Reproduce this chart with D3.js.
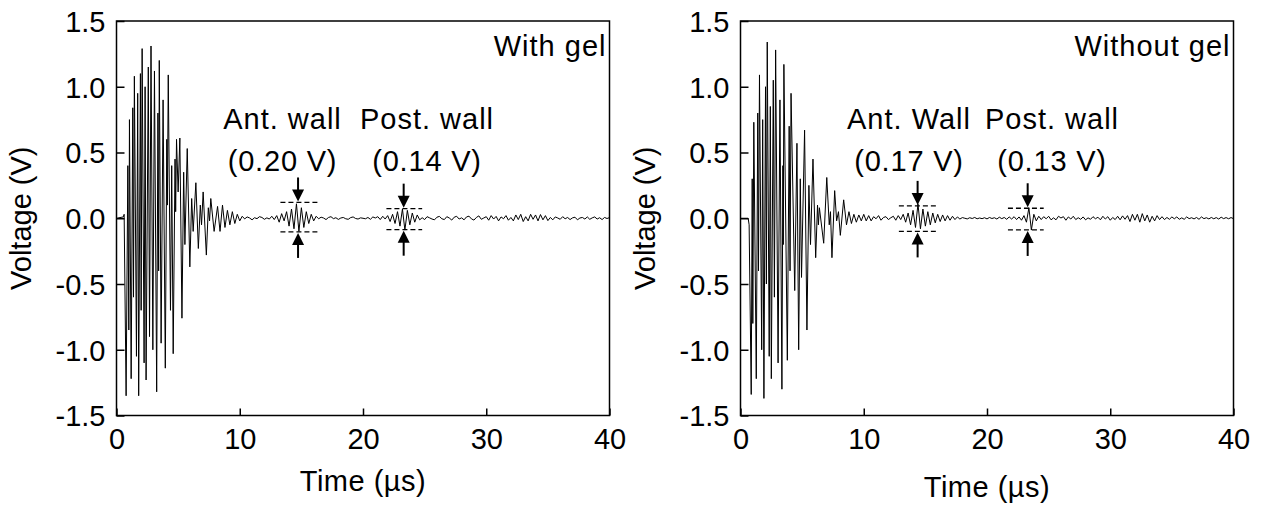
<!DOCTYPE html>
<html>
<head>
<meta charset="utf-8">
<script src="https://cdn.jsdelivr.net/npm/d3@7"></script>
<style>
  body { margin: 0; background: #fff; }
  text { font-family: "Liberation Sans", Arial, Helvetica, sans-serif; fill: #000; }
</style>
</head>
<body>
<svg id="chart" width="1262" height="505"></svg>
<script>
// ---- data ----
var xTicks = [0, 10, 20, 30, 40];
var yTicks = [-1.5, -1.0, -0.5, 0.0, 0.5, 1.0, 1.5];

// main burst, extrema (time in us, voltage in V)
var gelBurstT = [0, 0.55, 0.62, 0.78, 0.92, 1.00, 1.05, 1.19, 1.32, 1.38, 1.45, 1.62, 1.72, 1.80, 1.94, 2.00, 2.08, 2.24, 2.32, 2.40, 2.58, 2.68, 2.80, 2.95, 3.08, 3.26, 3.36, 3.42, 3.47, 3.62, 3.78, 3.96, 4.08, 4.13, 4.20, 4.38, 4.48, 4.60, 4.75, 4.80, 4.87, 5.00, 5.14, 5.31, 5.45, 5.55, 5.74, 5.95, 6.10, 6.22, 6.44, 6.64, 6.80, 6.90, 7.03, 7.29, 7.45, 7.55, 7.65, 7.92];
var gelBurstV = [0, 0.01, 0.03, -1.35, 0.40, -0.85, 0.75, -1.22, 0.84, -0.60, 1.08, -1.05, 0.95, -1.35, 1.10, -0.70, 1.29, -1.10, 1.00, -1.23, 1.15, -0.90, 1.31, -1.00, 1.12, -1.32, 0.80, -0.40, 1.20, -0.95, 0.90, -1.14, 0.60, 0.10, 1.09, -0.70, 0.40, -1.03, 0.45, 0.05, 0.60, 0.20, 0.61, -0.76, 0.35, -0.20, 0.53, -0.37, 0.15, -0.10, 0.27, -0.23, 0.10, -0.05, 0.20, -0.28, 0.08, -0.02, 0.15, -0.10];
// after the burst: one value every 0.2 us from 8.2 us
var gelTailStart = 8.2;
var gelTail = [
  0.09, -0.10, 0.10, -0.07, 0.06, -0.05, 0.05, -0.04, 0.03, -0.02,
  0.015, -0.005, 0.01, 0.002, -0.012, 0.004, -0.003, 0.012, 0.006, -0.008,
  0.003, -0.006, 0.015, -0.01, 0.02, -0.03, 0.035, -0.02, 0.05, -0.06,
  0.07, -0.08, 0.11, -0.10, 0.08, -0.07, 0.05, -0.04, 0.03, -0.02,
  0.015, -0.004, 0.008, 0.002, -0.01, 0.006, 0.012, -0.003, 0.004, -0.009,
  0.002, 0.006, -0.004, -0.008, 0.005, 0.01, -0.002, -0.006, 0.003, 0.0,
  -0.004, 0.006, -0.008, 0.01, 0.002, 0.012, -0.01, 0.015, -0.006, 0.02,
  -0.025, 0.03, -0.04, 0.05, -0.06, 0.07, -0.09, 0.06, -0.05, 0.04,
  -0.03, 0.025, -0.012, 0.004, -0.01, 0.012, 0.003, -0.006, -0.012, 0.008,
  0.014, -0.004, -0.01, 0.012, 0.002, -0.014, 0.008, 0.015, -0.006, 0.003,
  -0.012, 0.01, 0.016, -0.005, -0.014, 0.006, 0.018, -0.008, 0.002, 0.012,
  -0.015, 0.02, -0.006, 0.014, -0.02, 0.01, -0.004, 0.02, -0.015, 0.006,
  -0.02, 0.025, -0.01, 0.03, -0.025, 0.012, -0.02, 0.03, -0.008, 0.025,
  -0.02, 0.028, -0.012, 0.02, -0.018, 0.006, -0.012, 0.01, 0.002, -0.008,
  0.012, -0.004, 0.006, -0.01, 0.003, 0.008, -0.012, 0.002, 0.006, -0.006,
  0.01, -0.008, 0.003, 0.01, -0.006, 0.004, -0.01, 0.006, -0.002, 0.005
];

var noGelBurstT = [0, 0.62, 0.70, 0.87, 0.95, 1.00, 1.08, 1.28, 1.40, 1.46, 1.54, 1.72, 1.80, 1.90, 2.03, 2.10, 2.17, 2.33, 2.42, 2.50, 2.66, 2.75, 2.85, 3.05, 3.20, 3.36, 3.44, 3.47, 3.52, 3.80, 3.95, 4.02, 4.10, 4.40, 4.58, 4.72, 4.85, 4.95, 5.20, 5.39, 5.55, 5.68, 5.88, 6.10, 6.25, 6.32, 6.40, 6.75, 7.00, 7.20, 7.30, 7.42, 7.64, 7.80, 7.95, 8.10, 8.37];
var noGelBurstV = [0, 0.0, -0.05, -1.34, 0.30, -0.80, 0.73, -1.22, 0.80, -0.40, 1.09, -1.00, 0.75, -1.37, 1.00, -0.50, 1.34, -1.05, 0.85, -1.22, 1.05, -0.60, 1.28, -1.10, 0.90, -1.30, 0.40, -0.20, 1.17, -1.08, 0.70, -0.40, 0.95, -0.55, 0.57, -1.00, 0.30, -0.45, 0.67, -0.85, 0.25, -0.20, 0.45, -0.30, 0.10, -0.05, 0.08, -0.19, 0.31, -0.05, 0.05, -0.30, 0.21, -0.02, 0.05, -0.13, 0.14];
var noGelTailStart = 8.6;
var noGelTail = [
  -0.05, 0.05, -0.04, 0.03, -0.03, 0.025, -0.02, 0.03, -0.02, 0.02,
  -0.02, 0.012, -0.004, 0.02, -0.015, 0.006, 0.012, -0.01, 0.004, 0.015,
  -0.015, 0.02, -0.01, 0.03, -0.03, 0.04, -0.05, 0.06, -0.07, 0.11,
  -0.08, 0.07, -0.06, 0.05, -0.05, 0.04, -0.035, 0.03, -0.025, 0.025,
  -0.02, 0.02, -0.015, 0.015, -0.01, 0.01, -0.006, 0.005, 0.0, -0.005,
  0.004, -0.002, 0.006, -0.004, 0.002, -0.003, 0.004, -0.005, 0.006, -0.002,
  0.004, -0.006, 0.008, -0.003, 0.006, -0.008, 0.01, -0.006, 0.012, -0.01,
  0.01, -0.015, 0.02, -0.03, 0.08, -0.09, 0.03, -0.02, 0.015, -0.01,
  0.012, -0.004, 0.015, -0.012, 0.003, -0.012, 0.015, 0.002, 0.012, -0.015,
  0.01, -0.006, 0.015, -0.01, 0.004, -0.008, 0.01, -0.012, 0.003, -0.008,
  0.012, -0.004, 0.008, -0.012, 0.015, -0.006, 0.012, -0.015, 0.006, -0.01,
  0.015, -0.012, 0.018, -0.008, 0.02, -0.025, 0.03, -0.015, 0.03, -0.03,
  0.035, -0.02, 0.025, -0.03, 0.015, -0.02, 0.02, -0.01, 0.012, -0.01,
  0.006, -0.008, 0.01, -0.004, 0.01, -0.008, 0.003, -0.008, 0.01, -0.003,
  0.004, -0.005, 0.006, -0.008, 0.01, -0.003, 0.004, -0.005, 0.006, -0.004,
  0.005, -0.006, 0.008, -0.003, 0.005, -0.004, 0.005, -0.003
];

// echo markers: [arrow time, dashed from, dashed to, upper level, lower level, arrow top y offset]
var gelEchoes = [[14.73, 13.3, 16.3, 0.12, -0.104], [23.3, 21.9, 24.8, 0.073, -0.087]];
var noGelEchoes = [[14.37, 12.85, 15.85, 0.094, -0.10], [23.3, 21.7, 24.6, 0.076, -0.089]];
var gelLabels = [["Ant. wall", "(0.20 V)"], ["Post. wall", "(0.14 V)"]];
var noGelLabels = [["Ant. Wall", "(0.17 V)"], ["Post. wall", "(0.13 V)"]];

var svg = d3.select("#chart");
var FS = "29px";

function buildSeries(bt, bv, start, tail) {
  var pts = bt.map(function(t, i){ return [t, bv[i]]; });
  tail.forEach(function(v, i){ pts.push([start + i * 0.2, v]); });
  return pts;
}

function panel(left, pts, title, echoes, labels, labelX, timeY) {
  var x = d3.scaleLinear().domain([0, 40]).range([left, left + 493]);
  var y = d3.scaleLinear().domain([-1.5, 1.5]).range([415.5, 21]);
  var g = svg.append("g");

  g.append("path")
    .datum(pts)
    .attr("fill", "none")
    .attr("stroke", "#000")
    .attr("stroke-width", 1)
    .attr("d", d3.line().x(function(d){ return x(d[0]); }).y(function(d){ return y(d[1]); }));

  // frame
  g.append("rect")
    .attr("x", x(0)).attr("y", y(1.5))
    .attr("width", x(40) - x(0)).attr("height", y(-1.5) - y(1.5))
    .attr("fill", "none").attr("stroke", "#000").attr("stroke-width", 1.5);

  var xa = g.append("g").attr("transform", "translate(0," + y(-1.5) + ")")
    .call(d3.axisBottom(x).tickValues(xTicks).tickSizeInner(-7).tickSizeOuter(0).tickPadding(13));
  var ya = g.append("g").attr("transform", "translate(" + x(0) + ",0)")
    .call(d3.axisLeft(y).tickValues(yTicks).tickFormat(function(d){ return d.toFixed(1); })
      .tickSizeInner(-8).tickSizeOuter(0).tickPadding(11));
  [xa, ya].forEach(function(a){
    a.select(".domain").remove();
    a.selectAll("line").attr("stroke-width", 1.5);
    a.selectAll("text").style("font-size", FS).attr("font-family", null);
  });
  ya.selectAll("text").attr("dy", "0.36em");

  g.append("text").attr("x", x(20)).attr("y", timeY).attr("text-anchor", "middle")
    .style("font-size", FS).style("letter-spacing", "0.5px").text("Time (\u00b5s)");
  g.append("text").attr("transform", "translate(" + (left - 86) + "," + y(0) + ") rotate(-90)")
    .attr("text-anchor", "middle").style("font-size", FS).text("Voltage (V)");
  g.append("text").attr("x", x(40) - 3).attr("y", 56).attr("text-anchor", "end")
    .style("font-size", FS).style("letter-spacing", "1px").text(title);

  echoes.forEach(function(e, i){
    var ax = x(e[0]), yt = y(e[3]), yb = y(e[4]);
    [yt, yb].forEach(function(yy){
      g.append("line").attr("x1", x(e[1])).attr("x2", x(e[2])).attr("y1", yy).attr("y2", yy)
        .attr("stroke", "#000").attr("stroke-width", 1.3).attr("stroke-dasharray", "5,3");
    });
    // down arrow
    g.append("line").attr("x1", ax).attr("x2", ax).attr("y1", yt - 25).attr("y2", yt - 8)
      .attr("stroke", "#000").attr("stroke-width", 2);
    g.append("path").attr("d", "M" + (ax - 6) + "," + (yt - 13) + "L" + (ax + 6) + "," + (yt - 13) + "L" + ax + "," + (yt - 1) + "Z");
    // up arrow
    g.append("line").attr("x1", ax).attr("x2", ax).attr("y1", yb + 26).attr("y2", yb + 8)
      .attr("stroke", "#000").attr("stroke-width", 2);
    g.append("path").attr("d", "M" + (ax - 6) + "," + (yb + 13) + "L" + (ax + 6) + "," + (yb + 13) + "L" + ax + "," + (yb + 1) + "Z");

    g.append("text").attr("x", labelX[i]).attr("y", 129).attr("text-anchor", "middle")
      .style("font-size", FS).style("letter-spacing", "1px").text(labels[i][0]);
    g.append("text").attr("x", labelX[i]).attr("y", 171).attr("text-anchor", "middle")
      .style("font-size", FS).style("letter-spacing", "0.8px").text(labels[i][1]);
  });
}

panel(116.5, buildSeries(gelBurstT, gelBurstV, gelTailStart, gelTail), "With gel", gelEchoes, gelLabels, [282.5, 427], 491);
panel(740.5, buildSeries(noGelBurstT, noGelBurstV, noGelTailStart, noGelTail), "Without gel", noGelEchoes, noGelLabels, [909, 1052], 497);
</script>
</body>
</html>
